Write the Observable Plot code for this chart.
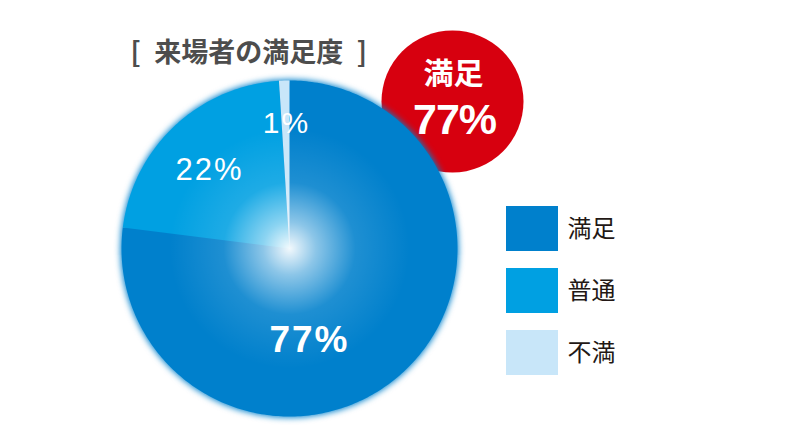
<!DOCTYPE html>
<html><head><meta charset="utf-8">
<script src="https://cdn.jsdelivr.net/npm/d3@7"></script>
<script src="https://cdn.jsdelivr.net/npm/@observablehq/plot@0.6"></script>
<style>
html,body{margin:0;padding:0;background:#fff;}
</style>
</head><body>
<div id="chart"></div>
<script>
// ---- data ----
const categories = ["満足", "普通", "不満"];
const values = [77, 22, 1];
const colors = ["#0080cc", "#00a0e2", "#c8e6f9"];
const valueLabels = ["77%", "22%", "1%"];
const title = "[\u2002来場者の満足度\u2002]";
const badgeTitle = "満足";
const badgeValue = "77%";

// ---- layout ----
const W = 800, H = 447;
const cx = 289, cy = 248, R = 168;
const labelOffsets = [[20, 92], [-80, -78], [-3, -125]];
const labelSizes = [37, 31, 30];
const badge = {x: 452, y: 101, r: 71};
const legend = {x: 506, y: 206, w: 52, h: 45, step: 62};

const pie = d3.pie().sort(null).value(d => d.value)(
  categories.map((c, i) => ({cat: c, value: values[i]}))
);
const slicePts = [];
pie.forEach(p => {
  const n = Math.max(4, Math.ceil((p.endAngle - p.startAngle) * 60));
  slicePts.push({cat: p.data.cat, x: cx, y: cy});
  for (let k = 0; k <= n; k++) {
    const a = p.startAngle + (p.endAngle - p.startAngle) * k / n;
    slicePts.push({cat: p.data.cat, x: cx + R * Math.sin(a), y: cy - R * Math.cos(a)});
  }
});
const labelData = categories.map((c, i) => ({
  cat: c, text: valueLabels[i], i,
  x: cx + labelOffsets[i][0], y: cy + labelOffsets[i][1]
}));
const legendData = categories.map((c, i) => ({
  cat: c, x1: legend.x, x2: legend.x + legend.w,
  y1: legend.y + i * legend.step, y2: legend.y + i * legend.step + legend.h
}));

const numFont = "Liberation Sans, Arial, sans-serif";
const jpFont = "Noto Sans CJK JP, sans-serif";

const svg = Plot.plot({
  width: W, height: H,
  margin: 0,
  style: {background: "#fff"},
  x: {domain: [0, W], range: [0, W], axis: null},
  y: {domain: [0, H], range: [0, H], axis: null},
  color: {domain: categories, range: colors},
  marks: [
    Plot.text([title], {x: 130, y: 53, text: d => d, textAnchor: "start", fontSize: 27, fontWeight: "bold", fill: "#4d4d4d", fontFamily: jpFont}),
    Plot.dot([badge], {x: "x", y: "y", r: badge.r, fill: "#d7000f", stroke: "none"}),
    Plot.text([badgeTitle], {x: badge.x + 1, y: badge.y - 27, text: d => d, fontSize: 30, fontWeight: "bold", fill: "#fff", fontFamily: jpFont}),
    Plot.text([badgeValue], {x: badge.x + 2, y: badge.y + 19, text: d => d, fontSize: 43, fontWeight: "bold", fill: "#fff", fontFamily: numFont, ariaLabel: () => "badgeval"}),
    Plot.dot([{x: cx, y: cy}], {x: "x", y: "y", r: R + 1, fill: "#0080cc", stroke: "none", ariaLabel: () => "halo"}),
    Plot.line(slicePts, {x: "x", y: "y", z: "cat", fill: "cat", curve: "linear", ariaLabel: () => "slices"}),
    Plot.dot([{x: cx, y: cy}], {x: "x", y: "y", r: 120, fill: "url(#glowgrad)", stroke: "none"}),
    Plot.text(labelData.filter(d => d.i === 0), {x: "x", y: "y", text: "text", fontSize: labelSizes[0], fontWeight: "bold", fill: "#fff", fontFamily: numFont, ariaLabel: () => "vlabels"}),
    Plot.text(labelData.filter(d => d.i === 1), {x: "x", y: "y", text: "text", fontSize: labelSizes[1], fill: "#fff", fontFamily: numFont, ariaLabel: () => "vlabels"}),
    Plot.text(labelData.filter(d => d.i === 2), {x: "x", y: "y", text: "text", fontSize: labelSizes[2], fill: "#fff", fontFamily: numFont, ariaLabel: () => "vlabels"}),
    Plot.rect(legendData, {x1: "x1", x2: "x2", y1: "y1", y2: "y2", fill: "cat"}),
    Plot.text(legendData, {x: d => d.x2 + 9, y: d => (d.y1 + d.y2) / 2, text: "cat", textAnchor: "start", fontSize: 24, fill: "#231815", fontFamily: jpFont})
  ]
});

const s = d3.select(svg);
const defs = s.insert("defs", ":first-child");
const rg = defs.append("radialGradient").attr("id", "glowgrad");
rg.append("stop").attr("offset", "0%").attr("stop-color", "#fff").attr("stop-opacity", 0.95);
rg.append("stop").attr("offset", "22%").attr("stop-color", "#fff").attr("stop-opacity", 0.55);
rg.append("stop").attr("offset", "55%").attr("stop-color", "#fff").attr("stop-opacity", 0.12);
rg.append("stop").attr("offset", "100%").attr("stop-color", "#fff").attr("stop-opacity", 0);
const f = defs.append("filter").attr("id", "blur").attr("x", "-20%").attr("y", "-20%").attr("width", "140%").attr("height", "140%");
f.append("feGaussianBlur").attr("stdDeviation", 3);
s.selectAll('[aria-label="halo"]').attr("filter", "url(#blur)");
s.selectAll('[aria-label="slices"]').attr("transform", function() {
  return this.getAttribute("transform");
});
s.selectAll('text[aria-label="vlabels"], [aria-label="vlabels"] text').attr("letter-spacing", 2);
s.selectAll('text[aria-label="badgeval"]').attr("letter-spacing", -1);
document.getElementById("chart").appendChild(svg);
</script>
</body></html>
